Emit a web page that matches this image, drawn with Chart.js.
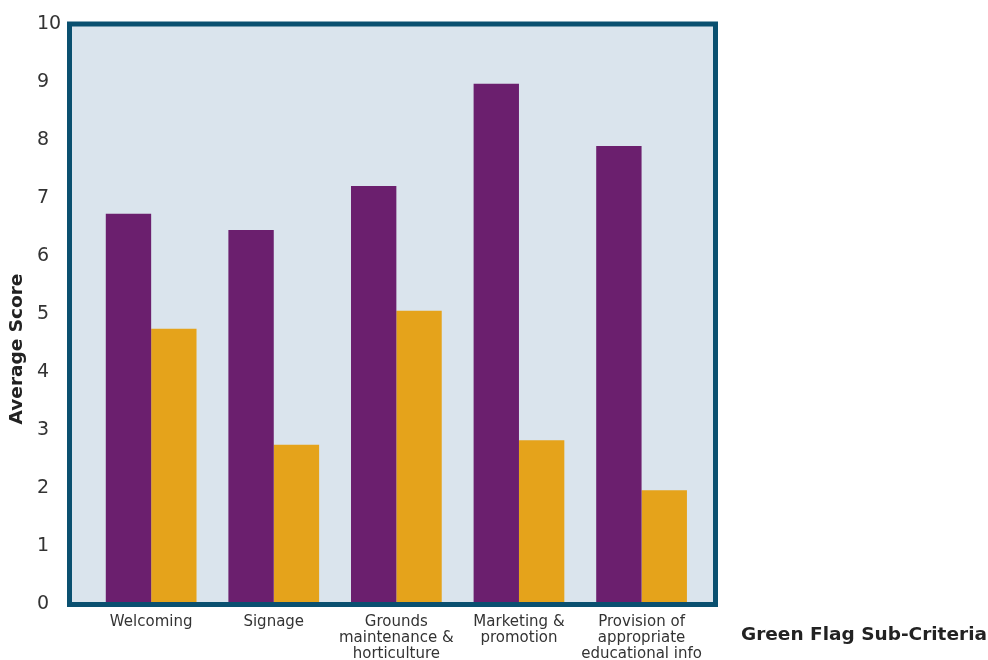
<!DOCTYPE html>
<html>
<head>
<meta charset="utf-8">
<script src="https://cdn.jsdelivr.net/npm/chart.js@4/dist/chart.umd.min.js"></script>
<style>
  html, body { margin: 0; padding: 0; background: #fff; }
  #wrap { width: 988px; height: 660px; position: relative; }
</style>
</head>
<body>
<div id="wrap"><canvas id="chart"></canvas></div>
<script>
const categories = [
  'Welcoming',
  'Signage',
  ['Grounds', 'maintenance &', 'horticulture'],
  ['Marketing &', 'promotion'],
  ['Provision of', 'appropriate', 'educational info']
];
const purpleScores = [6.73, 6.45, 7.21, 8.97, 7.90];
const orangeScores = [4.75, 2.75, 5.06, 2.83, 1.97];
const yTicks = [0, 1, 2, 3, 4, 5, 6, 7, 8, 9, 10];

const FONT = '"DejaVu Sans", Verdana, sans-serif';

// plot background + heavy frame around the chart area
const framePlugin = {
  id: 'frame',
  beforeDatasetsDraw(chart) {
    const { ctx, chartArea: a } = chart;
    ctx.save();
    ctx.fillStyle = '#dae4ed';
    ctx.fillRect(a.left, a.top, a.right - a.left, a.bottom - a.top);
    ctx.restore();
  },
  afterDatasetsDraw(chart) {
    const { ctx, chartArea: a } = chart;
    ctx.save();
    ctx.strokeStyle = '#0a5070';
    ctx.lineWidth = 5;
    ctx.strokeRect(a.left, a.top, a.right - a.left, a.bottom - a.top);
    ctx.restore();
  }
};

// axis titles sit off-centre in the original, so draw them by hand
const titlesPlugin = {
  id: 'titles',
  afterDraw(chart) {
    const ctx = chart.ctx;
    ctx.save();
    ctx.fillStyle = '#222';
    ctx.font = 'bold 18.5px ' + FONT;
    ctx.textBaseline = 'middle';
    ctx.textAlign = 'left';
    ctx.fillText('Green Flag Sub-Criteria', 741, 635);
    ctx.translate(17, 349);
    ctx.rotate(-Math.PI / 2);
    ctx.textAlign = 'center';
    ctx.fillText('Average Score', 0, 0);
    ctx.restore();
  }
};

new Chart(document.getElementById('chart'), {
  type: 'bar',
  data: {
    datasets: [
      {
        data: purpleScores.map((v, i) => ({ x: i, y: v })),
        backgroundColor: '#6b1f6e',
        borderWidth: 0
      },
      {
        data: orangeScores.map((v, i) => ({ x: i, y: v })),
        backgroundColor: '#e5a31b',
        borderWidth: 0
      }
    ]
  },
  options: {
    responsive: true,
    maintainAspectRatio: false,
    animation: false,
    categoryPercentage: 0.74,
    barPercentage: 1,
    layout: { padding: { left: 37, right: 272.5, top: 24, bottom: 0 } },
    plugins: { legend: { display: false }, tooltip: { enabled: false } },
    scales: {
      x: {
        type: 'linear',
        offset: false,
        min: -0.666,
        max: 4.603,
        grid: { display: false, drawTicks: false },
        border: { display: false },
        afterBuildTicks: (scale) => {
          scale.ticks = categories.map((_, i) => ({ value: i }));
        },
        afterFit: (scale) => { scale.height = 55.5; },
        ticks: {
          autoSkip: false,
          maxRotation: 0,
          padding: 9.5,
          color: '#333',
          font: { family: FONT, size: 15, lineHeight: 1.07 },
          callback: (value) => categories[value]
        }
      },
      y: {
        min: 0,
        max: 10,
        grid: { display: false, drawTicks: false },
        border: { display: false },
        afterBuildTicks: (scale) => {
          scale.ticks = yTicks.map(v => ({ value: v }));
        },
        afterFit: (scale) => { scale.width = 32.5; },
        ticks: {
          crossAlign: 'far',
          color: '#333',
          font: { family: FONT, size: 19 }
        }
      }
    }
  },
  plugins: [framePlugin, titlesPlugin]
});
</script>
</body>
</html>
